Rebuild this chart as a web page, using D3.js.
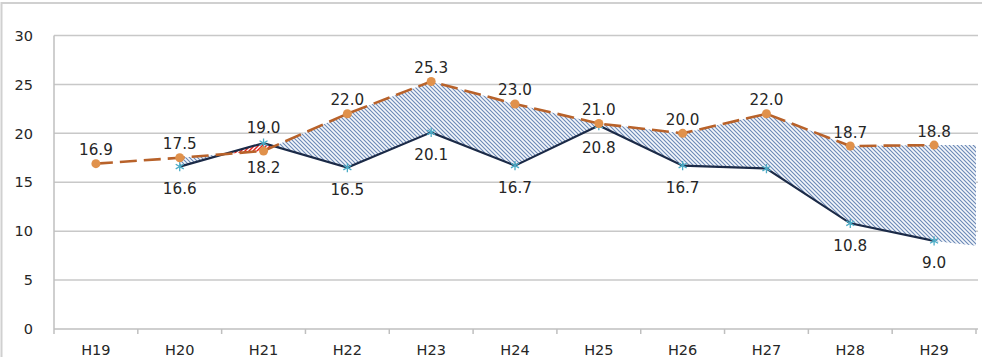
<!DOCTYPE html>
<html>
<head>
<meta charset="utf-8">
<script src="https://cdn.jsdelivr.net/npm/d3@7"></script>
<style>
  html, body { margin: 0; padding: 0; background: #fff; }
  svg { display: block; }
  text { font-family: "DejaVu Sans", Verdana, sans-serif; }
</style>
</head>
<body>
<svg id="chart" width="982" height="357"></svg>
<script>
// Fiscal years (Heisei era)
const years = ["H19", "H20", "H21", "H22", "H23", "H24", "H25", "H26", "H27", "H28", "H29"];
// Dashed orange series
const upperSeries = [16.9, 17.5, 18.2, 22.0, 25.3, 23.0, 21.0, 20.0, 22.0, 18.7, 18.8];
// Solid navy series (no value for H19)
const lowerSeries = [null, 16.6, 19.0, 16.5, 20.1, 16.7, 20.8, 16.7, 16.4, 10.8, 9.0];
// Gap band values where it meets the right edge of the plot: [upper, lower]
const bandEdgeValues = [18.8, 8.5];
// Y axis ticks
const yTicks = [0, 5, 10, 15, 20, 25, 30];

// Label placement exceptions
const upperLabelBelow = ["H21"];
const lowerLabelAbove = ["H21"];
const lowerUnlabeled = ["H27"];

const W = 982, H = 357;
const plot = { left: 54, right: 976, top: 35.5, bottom: 329 };

const svg = d3.select("#chart");

const x = d3.scaleBand().domain(years).range([plot.left, plot.right]).padding(0);
const cx = d => x(d) + x.bandwidth() / 2;
const y = d3.scaleLinear().domain([0, 30]).range([plot.bottom, plot.top]);
const fmt = d3.format(".1f");

// Outer chart frame
svg.append("rect")
  .attr("x", 1.5).attr("y", 3)
  .attr("width", W + 20).attr("height", H + 20)
  .attr("fill", "none").attr("stroke", "#d0d0d0").attr("stroke-width", 2);

// Patterns
const defs = svg.append("defs");
const blue = defs.append("pattern")
  .attr("id", "hatchBlue").attr("patternUnits", "userSpaceOnUse")
  .attr("width", 4).attr("height", 4);
blue.append("rect").attr("width", 4).attr("height", 4).attr("fill", "#f4f7fb");
blue.append("path")
  .attr("d", "M-1,-1 L5,5 M-1,3 L1,5 M3,-1 L5,1")
  .attr("stroke", "#6a88b6").attr("stroke-width", 1.1);

const red = defs.append("pattern")
  .attr("id", "hatchRed").attr("patternUnits", "userSpaceOnUse")
  .attr("width", 4).attr("height", 4);
red.append("rect").attr("width", 4).attr("height", 4).attr("fill", "#ffffff");
red.append("path")
  .attr("d", "M-1,5 L5,-1 M-1,1 L1,-1 M3,5 L5,3")
  .attr("stroke", "#e8231c").attr("stroke-width", 1.5);

// Gridlines
svg.append("g").selectAll("line")
  .data(yTicks.filter(t => t > 0))
  .join("line")
  .attr("x1", plot.left).attr("x2", plot.right + 2)
  .attr("y1", d => y(d)).attr("y2", d => y(d))
  .attr("stroke", "#c8c8c8").attr("stroke-width", 1.5);

// Y tick labels
svg.append("g").selectAll("text")
  .data(yTicks)
  .join("text")
  .attr("x", 33).attr("y", d => y(d))
  .attr("dy", "0.36em")
  .attr("text-anchor", "end")
  .attr("font-size", 14.5)
  .attr("fill", "#262626")
  .text(d => d);

// Band between the two series, extending to the right edge
const band = years.map((yr, i) => ({ x: cx(yr), u: upperSeries[i], l: lowerSeries[i] }))
  .filter(d => d.l != null);
band.push({ x: plot.right, u: bandEdgeValues[0], l: bandEdgeValues[1] });

// Clip regions: below the upper line / above the upper line
const clipBelowUpper = defs.append("clipPath").attr("id", "belowUpper");
clipBelowUpper.append("path").attr("d",
  d3.area().x(d => d.x).y0(plot.bottom + 5).y1(d => y(d.u))(band));
const clipAboveUpper = defs.append("clipPath").attr("id", "aboveUpper");
clipAboveUpper.append("path").attr("d",
  d3.area().x(d => d.x).y0(0).y1(d => y(d.u))(band));

// Upper above lower: blue hatch
svg.append("path")
  .attr("d", d3.area().x(d => d.x).y0(0).y1(d => y(d.l))(band))
  .attr("fill", "url(#hatchBlue)")
  .attr("clip-path", "url(#belowUpper)");

// Lower above upper: red hatch
svg.append("path")
  .attr("d", d3.area().x(d => d.x).y0(plot.bottom + 5).y1(d => y(d.l))(band))
  .attr("fill", "url(#hatchRed)")
  .attr("clip-path", "url(#aboveUpper)");

// Axes lines
svg.append("line")
  .attr("x1", plot.left).attr("x2", plot.left)
  .attr("y1", plot.top).attr("y2", plot.bottom)
  .attr("stroke", "#bfbfbf").attr("stroke-width", 1.5);
svg.append("line")
  .attr("x1", plot.left).attr("x2", plot.right + 2)
  .attr("y1", plot.bottom).attr("y2", plot.bottom)
  .attr("stroke", "#bfbfbf").attr("stroke-width", 1.5);

// X tick marks on category boundaries
svg.append("g").selectAll("line")
  .data(years.map(d => x(d)).concat([plot.right]))
  .join("line")
  .attr("x1", d => d).attr("x2", d => d)
  .attr("y1", plot.bottom).attr("y2", plot.bottom + 5)
  .attr("stroke", "#bfbfbf").attr("stroke-width", 1.5);

// X labels
svg.append("g").selectAll("text")
  .data(years)
  .join("text")
  .attr("x", d => cx(d)).attr("y", 350)
  .attr("dy", "0.36em")
  .attr("text-anchor", "middle")
  .attr("font-size", 14.5)
  .attr("fill", "#262626")
  .text(d => d);

// Lower series line
const lowerPts = years.map((yr, i) => ({ yr, v: lowerSeries[i] })).filter(d => d.v != null);
svg.append("path")
  .attr("d", d3.line().x(d => cx(d.yr)).y(d => y(d.v))(lowerPts))
  .attr("fill", "none").attr("stroke", "#1b2a47").attr("stroke-width", 2.2);

// Upper series dashed line
const upperPts = years.map((yr, i) => ({ yr, v: upperSeries[i] }));
svg.append("path")
  .attr("d", d3.line().x(d => cx(d.yr)).y(d => y(d.v))(upperPts))
  .attr("fill", "none").attr("stroke", "#b8622a").attr("stroke-width", 2.6)
  .attr("stroke-dasharray", "17,7");

// Lower series markers
svg.append("g").selectAll("path")
  .data(lowerPts)
  .join("path")
  .attr("transform", d => `translate(${cx(d.yr)},${y(d.v)})`)
  .attr("d", d3.symbol(d3.symbolAsterisk, 60))
  .attr("fill", "none").attr("stroke", "#4bacc6").attr("stroke-width", 1.3);

// Upper series markers
svg.append("g").selectAll("circle")
  .data(upperPts)
  .join("circle")
  .attr("cx", d => cx(d.yr)).attr("cy", d => y(d.v))
  .attr("r", 4.5)
  .attr("fill", "#e0914b");

// Value labels
svg.append("g").selectAll("text")
  .data(upperPts)
  .join("text")
  .attr("x", d => cx(d.yr))
  .attr("y", d => y(d.v) + (upperLabelBelow.includes(d.yr) ? 17 : -14))
  .attr("dy", "0.36em")
  .attr("text-anchor", "middle")
  .attr("font-size", 15.2)
  .attr("fill", "#262626")
  .text(d => fmt(d.v));

svg.append("g").selectAll("text")
  .data(lowerPts.filter(d => !lowerUnlabeled.includes(d.yr)))
  .join("text")
  .attr("x", d => cx(d.yr))
  .attr("y", d => y(d.v) + (lowerLabelAbove.includes(d.yr) ? -16 : 22))
  .attr("dy", "0.36em")
  .attr("text-anchor", "middle")
  .attr("font-size", 15.2)
  .attr("fill", "#262626")
  .text(d => fmt(d.v));
</script>
</body>
</html>
